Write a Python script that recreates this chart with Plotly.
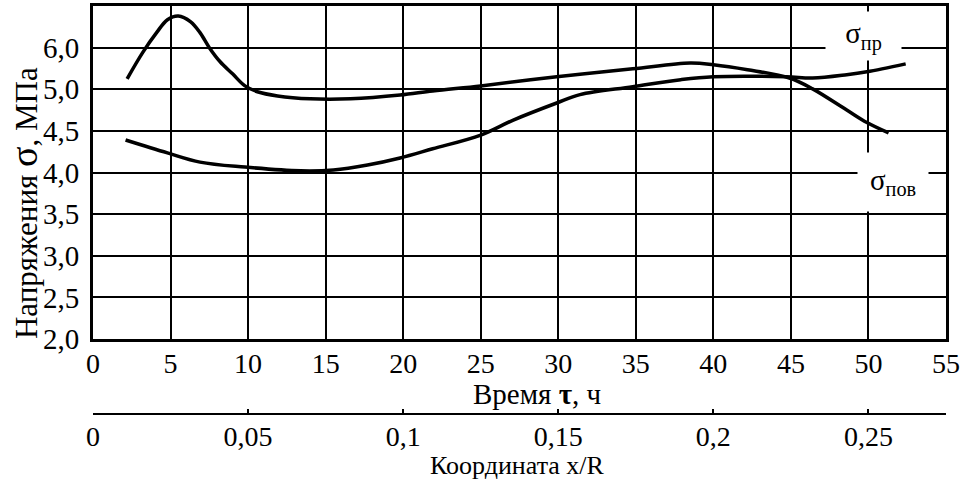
import numpy as np
import plotly.graph_objects as go

# --- data ---
tau_pov = [2.2, 3.2, 4.1, 4.8, 5.5, 6.3, 6.9, 7.5, 8.2, 9.0, 9.8, 10.6, 11.9, 14.0, 16.6,
           19.8, 21.9, 25.0, 29.9, 34.8, 38.5, 40.0, 42.2, 44.9, 46.4, 48.6, 49.9, 51.3]
sigma_pov = [5.25, 5.88, 6.36, 6.67, 6.76, 6.62, 6.36, 6.0, 5.66, 5.37, 5.08, 4.97, 4.92, 4.885, 4.885,
             4.93, 4.98, 5.08, 5.30, 5.49, 5.63, 5.59, 5.47, 5.27, 5.01, 4.75, 4.60, 4.475]

tau_pr = [2.1, 4.8, 6.9, 9.8, 13.4, 15.5, 17.7, 19.8, 21.9, 25.0, 27.1, 29.9, 31.4, 34.8,
          37.9, 40.0, 44.7, 46.4, 48.6, 49.9, 52.4]
sigma_pr = [4.39, 4.235, 4.125, 4.065, 4.02, 4.03, 4.09, 4.175, 4.285, 4.45, 4.63, 4.835, 4.935, 5.06,
            5.23, 5.30, 5.30, 5.27, 5.35, 5.42, 5.61]

# non-uniform stress axis: labelled values at equally spaced gridlines (top edge = 7.0)
y_tick_values = [2.0, 2.5, 3.0, 3.5, 4.0, 4.5, 5.0, 6.0, 7.0]
y_tick_labels = ["2,0", "2,5", "3,0", "3,5", "4,0", "4,5", "5,0", "6,0"]
y_positions = list(range(len(y_tick_values)))

x_tick_values = list(range(0, 56, 5))
x2_tick_values = [0, 0.05, 0.1, 0.15, 0.2, 0.25]
x2_tick_labels = ["0", "0,05", "0,1", "0,15", "0,2", "0,25"]
tau_per_coord = 200.0  # 10 h <-> x/R = 0.05

def to_pos(vals):
    return np.interp(vals, y_tick_values, y_positions)

FONT = "Liberation Serif"
fig = go.Figure()
line = dict(color="black", width=3.5, shape="spline", smoothing=1.0)
fig.add_trace(go.Scatter(x=tau_pov, y=to_pos(sigma_pov), mode="lines", line=line,
                         name="σпов", hoverinfo="skip"))
fig.add_trace(go.Scatter(x=tau_pr, y=to_pos(sigma_pr), mode="lines", line=line,
                         name="σпр", hoverinfo="skip"))
# invisible trace so the second (coordinate) axis is drawn
fig.add_trace(go.Scatter(x=np.array(tau_pr) / tau_per_coord, y=to_pos(sigma_pr), xaxis="x2", yaxis="y",
                         mode="lines", line=dict(width=0), opacity=0, hoverinfo="skip", showlegend=False))

fig.update_layout(
    width=962, height=481,
    margin=dict(l=93, r=16, t=6, b=67),
    paper_bgcolor="white", plot_bgcolor="white",
    showlegend=False,
    font=dict(family=FONT, color="black"),
    xaxis=dict(range=[0, 55], tickvals=x_tick_values, ticks="", showgrid=True,
               gridcolor="black", gridwidth=2, zeroline=False,
               showline=True, linecolor="black", linewidth=3, mirror=True,
               tickfont=dict(size=28, family=FONT), ticklabelstandoff=-3,
               automargin=False, anchor="y"),
    xaxis2=dict(range=[0, 55 / tau_per_coord], overlaying="x", anchor="free", position=0, side="bottom",
                tickvals=x2_tick_values, ticktext=x2_tick_labels, ticks="inside", ticklen=4,
                tickwidth=2, tickcolor="black", showgrid=False, zeroline=False,
                showline=True, linecolor="black", linewidth=2,
                tickfont=dict(size=28, family=FONT), ticklabelstandoff=-3, automargin=False),
    yaxis=dict(range=[0, 8], domain=[0.1838, 1], tickvals=y_positions[:len(y_tick_labels)],
               ticktext=y_tick_labels,
               ticks="", showgrid=True, gridcolor="black", gridwidth=2, zeroline=False,
               showline=True, linecolor="black", linewidth=3, mirror=True,
               tickfont=dict(size=29, family=FONT), ticklabelstandoff=5, automargin=False),
)

# axis titles
fig.add_annotation(x=0.5205, y=0.049, xref="paper", yref="paper", text="Время <b>τ</b>, ч",
                   showarrow=False, font=dict(size=29, family=FONT), yanchor="middle")
fig.add_annotation(x=0.498, y=-0.125, xref="paper", yref="paper", text="Координата x/R",
                   showarrow=False, font=dict(size=26, family=FONT), yanchor="middle")
fig.add_annotation(x=-0.0809, y=0.517, xref="paper", yref="paper",
                   text="Напряжения <span style='font-size:38px'>σ</span>, МПа",
                   textangle=-90, showarrow=False, font=dict(size=31, family=FONT),
                   xanchor="center", yanchor="middle")

# curve labels on white boxes
fig.add_annotation(x=49.7, y=7.28, xref="x", yref="y", text="σ<sub>пр</sub>", showarrow=False,
                   bgcolor="white", width=73, height=46, font=dict(size=29, family=FONT))
fig.add_annotation(x=51.6, y=3.77, xref="x", yref="y", text="σ<sub>пов</sub>", showarrow=False,
                   bgcolor="white", width=68, height=56, font=dict(size=29, family=FONT))

fig.write_html("out.html", config={"displayModeBar": False},
               post_script="document.body.style.margin='0';")
